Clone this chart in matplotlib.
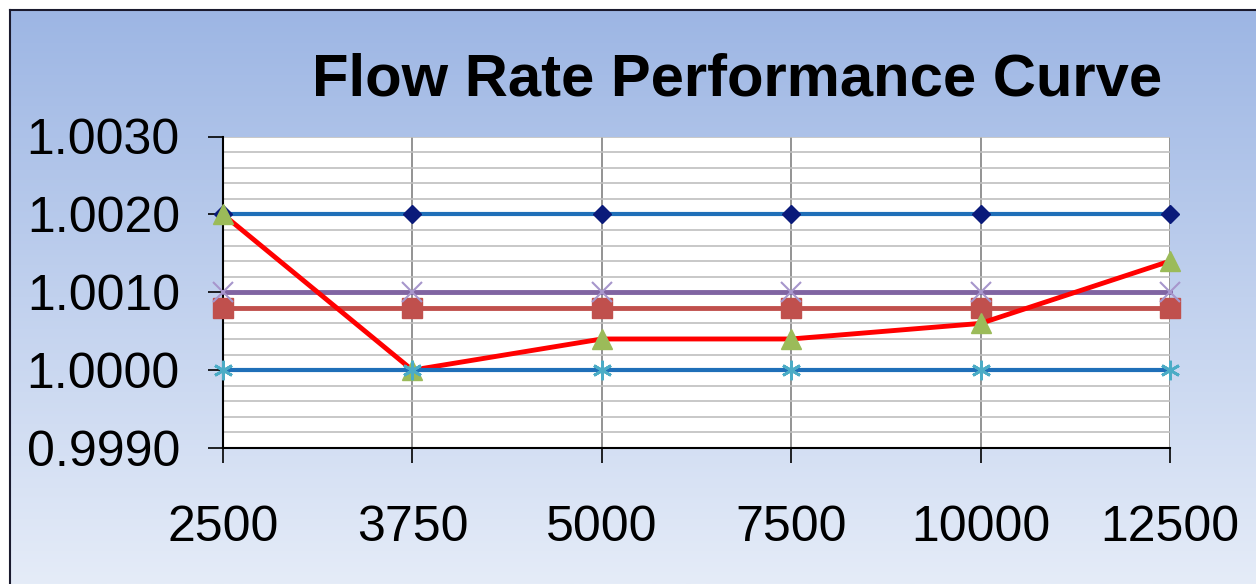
import numpy as np
import matplotlib
matplotlib.use("Agg")
from matplotlib import pyplot as plt

# Chart data
flow_rates = ["2500", "3750", "5000", "7500", "10000", "12500"]
upper_limit = [1.0020, 1.0020, 1.0020, 1.0020, 1.0020, 1.0020]
nominal = [1.0008, 1.0008, 1.0008, 1.0008, 1.0008, 1.0008]
mid_line = [1.0010, 1.0010, 1.0010, 1.0010, 1.0010, 1.0010]
measured = [1.0020, 1.0000, 1.0004, 1.0004, 1.0006, 1.0014]
lower_limit = [1.0000, 1.0000, 1.0000, 1.0000, 1.0000, 1.0000]

plt.rcParams['font.family'] = ['Liberation Sans', 'DejaVu Sans']

fig = plt.figure(dpi=100, figsize=(12.56, 5.84))

# gradient background with a border on top/left
bg = fig.add_axes([10 / 1256, 0, 1 - 10 / 1256, 1 - 10 / 584], zorder=0)
grad = np.linspace(0, 1, 256).reshape(-1, 1)
top_c = np.array([157, 182, 228]) / 255.0
bot_c = np.array([229, 236, 248]) / 255.0
img = top_c[None, None, :] * (1 - grad[:, :, None]) + bot_c[None, None, :] * grad[:, :, None]
bg.imshow(img, aspect='auto', extent=[0, 1, 0, 1])
bg.set_xticks([])
bg.set_yticks([])
for side in ['right', 'bottom']:
    bg.spines[side].set_visible(False)
for side in ['top', 'left']:
    bg.spines[side].set_color('#1a1a2e')
    bg.spines[side].set_linewidth(1.5)

ax = fig.add_axes([223 / 1256, 136 / 584, 947 / 1256, 311.5 / 584], zorder=1)
ax.set_facecolor('white')
x = np.arange(len(flow_rates))

ax.plot(x, upper_limit, color='#1F6FB8', lw=3, marker='D', ms=9,
        mfc='#0A1A7A', mec='#0A1A7A', zorder=3, clip_on=False)
ax.plot(x, nominal, color='#C0504D', lw=3.5, marker='s', ms=14,
        mfc='#C0504D', mec='#C0504D', zorder=3, clip_on=False)
ax.plot(x, mid_line, color='#8064A2', lw=3.5, marker='x', ms=14, mew=1.5,
        mec='#A796CC', zorder=4, clip_on=False)
ax.plot(x, measured, color='#FF0000', lw=3.5, marker='^', ms=15,
        mfc='#9BBB59', mec='#9BBB59', zorder=5, clip_on=False)
ax.plot(x, lower_limit, color='#1F6FB8', lw=3, marker=(6, 2, 0), ms=14, mew=2,
        mec='#4BACC6', zorder=6, clip_on=False)

ax.set_xlim(0, len(flow_rates) - 1)
ax.set_ylim(0.9990, 1.0030)
ax.set_xticks(x)
ax.set_xticklabels(flow_rates)
ax.set_yticks([0.9990, 1.0000, 1.0010, 1.0020, 1.0030])
ax.set_yticklabels(['0.9990', '1.0000', '1.0010', '1.0020', '1.0030'])
ax.set_yticks(np.arange(0.9990, 1.00301, 0.0002), minor=True)
ax.tick_params(axis='y', which='minor', length=0)
ax.tick_params(axis='both', which='major', labelsize=36, length=11,
               width=1.2, direction='out', color='black')
ax.tick_params(axis='x', pad=30)
ax.tick_params(axis='y', pad=20)

ax.grid(axis='y', which='both', color='#BFBFBF', lw=1.2, zorder=0)
ax.grid(axis='x', which='major', color='#808080', lw=1.2, zorder=0)
ax.set_axisbelow(True)

for side in ['top', 'right']:
    ax.spines[side].set_visible(False)
ax.spines['left'].set_linewidth(1.5)
ax.spines['bottom'].set_linewidth(1.5)

fig.text(737 / 1256, 1 - 80 / 584, 'Flow Rate Performance Curve', fontsize=43,
         fontweight='bold', ha='center', va='center', zorder=2)

plt.savefig('out.png', dpi=100)
